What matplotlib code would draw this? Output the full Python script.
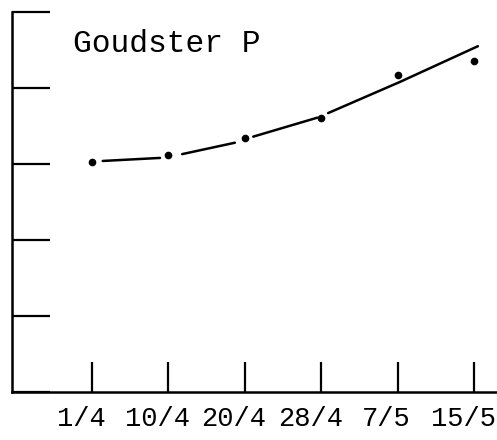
import numpy as np
from matplotlib import pyplot as plt
from matplotlib.transforms import ScaledTranslation

# sample dates and measured values
dates = ["1/4", "10/4", "20/4", "28/4", "7/5", "15/5"]
values = [3.03, 3.12, 3.34, 3.61, 4.17, 4.36]

# hand-drawn trend line (nan = pen lifted)
curve_x = [0.14, 0.89, np.nan, 1.18, 1.87, np.nan, 2.11, 2.95, np.nan, 3.09, 4.03, 5.05]
curve_y = [3.04, 3.08, np.nan, 3.13, 3.28, np.nan, 3.36, 3.61, np.nan, 3.67, 4.08, 4.55]

fig = plt.figure(figsize=(4.97, 4.40), dpi=100)
ax = fig.add_axes([12 / 497, 48 / 440, 485 / 497, 380 / 440])

pos = np.arange(len(dates))
ax.plot(curve_x, curve_y, color="black", linewidth=1.8, solid_capstyle="round")
ax.plot(pos, values, "o", color="black", markersize=4.5)

ax.set_xlim(-1.047, 5.30)
ax.set_ylim(0, 5)

for side in ("top", "right"):
    ax.spines[side].set_visible(False)
for side in ("left", "bottom"):
    ax.spines[side].set_linewidth(1.8)

ax.set_yticks(range(0, 6))
ax.set_yticklabels([])
ax.tick_params(axis="y", direction="in", length=27, width=1.6)

ax.set_xticks(pos)
ax.set_xticklabels(dates, fontfamily="Liberation Mono", fontsize=19.5)
ax.tick_params(axis="x", direction="in", length=21.5, width=1.6, pad=10)
shift = ScaledTranslation(-11 / 100, 0, fig.dpi_scale_trans)
for label in ax.get_xticklabels():
    label.set_transform(label.get_transform() + shift)

ax.text(0.126, 0.916, "Goudster P", transform=ax.transAxes,
        fontfamily="Liberation Mono", fontsize=22.5, va="center", ha="left")

fig.savefig("out.png", dpi=100)
